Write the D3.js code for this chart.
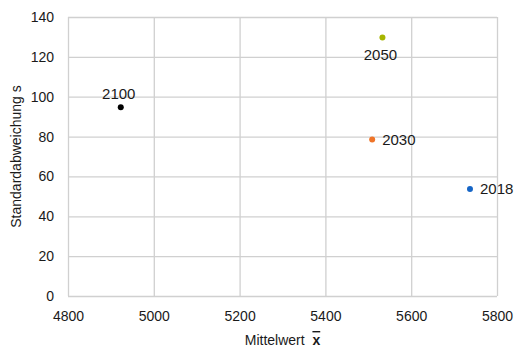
<!DOCTYPE html>
<html>
<head>
<meta charset="utf-8">
<script src="https://cdn.jsdelivr.net/npm/d3@7"></script>
<style>
  body { margin: 0; background: #fff; }
  text { font-family: "Liberation Sans", Arial, sans-serif; fill: #1a1a1a; }
</style>
</head>
<body>
<div id="chart"></div>
<script>
// data
var years = ["2018", "2030", "2050", "2100"];
var means = [5737, 5509, 5533, 4923];
var sds = [53.7, 78.5, 129.7, 94.7];
var colors = ["#1565c6", "#ef7428", "#a6b500", "#000000"];
var labelPos = ["right", "right", "below", "above"];

var xTicks = [4800, 5000, 5200, 5400, 5600, 5800];
var yTicks = [0, 20, 40, 60, 80, 100, 120, 140];

var svgWidth = 518, svgHeight = 352;
var margin = { top: 17, right: 21, bottom: 56, left: 68 };
var w = svgWidth - margin.left - margin.right;
var h = svgHeight - margin.top - margin.bottom;

var svg = d3.select("#chart").append("svg")
  .attr("width", svgWidth)
  .attr("height", svgHeight);

var g = svg.append("g")
  .attr("transform", `translate(${margin.left}, ${margin.top})`);

var x = d3.scaleLinear().domain([4800, 5800]).range([0, w]);
var y = d3.scaleLinear().domain([0, 140]).range([h, 0]);

// grid + tick labels
var xAxis = d3.axisBottom(x).tickValues(xTicks).tickFormat(d3.format("d"))
  .tickSize(-h).tickSizeOuter(0).tickPadding(11);
var yAxis = d3.axisLeft(y).tickValues(yTicks).tickFormat(d3.format("d"))
  .tickSize(-w).tickSizeOuter(0).tickPadding(14);

var gx = g.append("g")
  .attr("transform", `translate(0, ${h})`)
  .call(xAxis);
var gy = g.append("g").call(yAxis);

[gx, gy].forEach(function(a) {
  a.select(".domain").remove();
  a.selectAll("line").attr("stroke", "#d0d0d0").attr("stroke-width", 1.3);
  a.selectAll("text").style("font-size", "14px").attr("fill", "#1a1a1a");
});
gx.selectAll("text").attr("dy", "1em");

var pts = years.map(function(d, i) {
  return { year: d, mx: means[i], sd: sds[i], c: colors[i], pos: labelPos[i] };
});

g.selectAll("circle.pt")
  .data(pts)
  .enter()
  .append("circle")
  .attr("class", "pt")
  .attr("r", 3)
  .attr("cx", d => x(d.mx))
  .attr("cy", d => y(d.sd))
  .attr("fill", d => d.c);

g.selectAll("text.lbl")
  .data(pts)
  .enter()
  .append("text")
  .attr("class", "lbl")
  .style("font-size", "15px")
  .attr("text-anchor", d => d.pos == "right" ? "start" : "middle")
  .attr("x", d => d.pos == "right" ? x(d.mx) + 10 : x(d.mx) - 2)
  .attr("y", d => {
    if (d.pos == "right") return y(d.sd) + 5.5;
    if (d.pos == "above") return y(d.sd) - 8.5;
    return y(d.sd) + 22;
  })
  .text(d => d.year);

// axis titles
svg.append("text")
  .attr("transform", `translate(21, ${margin.top + h / 2}) rotate(-90)`)
  .attr("text-anchor", "middle")
  .style("font-size", "14px")
  .text("Standardabweichung s");

var xt = svg.append("text")
  .attr("x", margin.left + w / 2)
  .attr("y", 345)
  .attr("text-anchor", "middle")
  .style("font-size", "14px");
xt.append("tspan").text("Mittelwert\u00a0\u00a0");
xt.append("tspan")
  .style("font-weight", "bold")
  .style("text-decoration", "overline")
  .text("x");
</script>
</body>
</html>
